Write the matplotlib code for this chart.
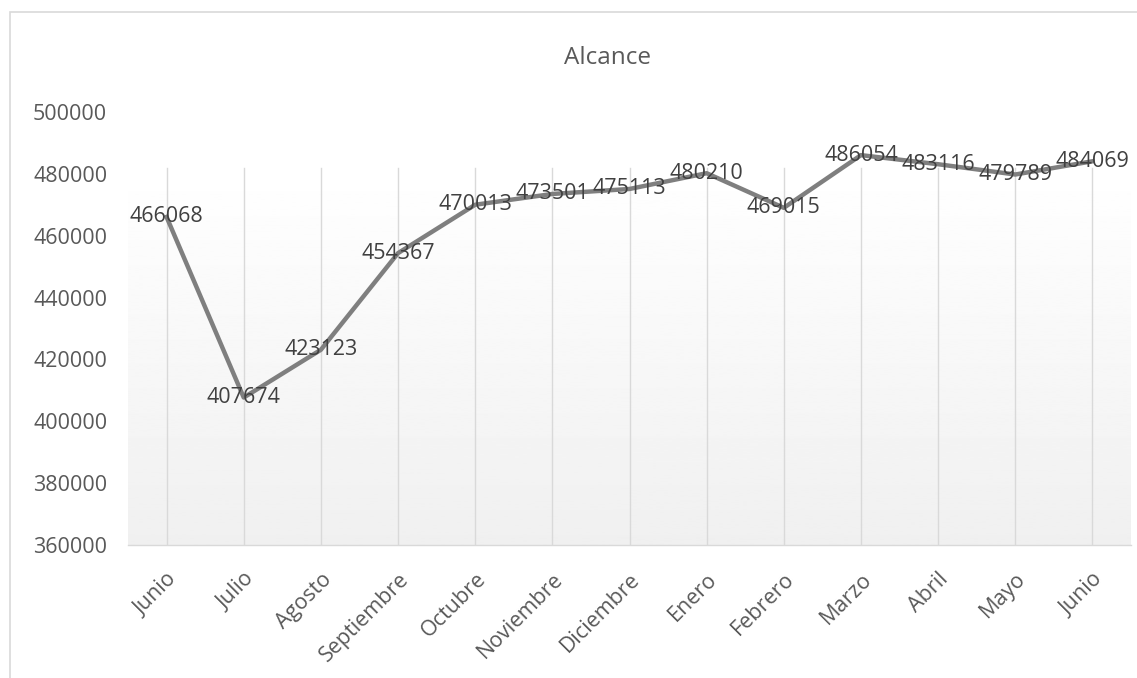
import numpy as np
import matplotlib.pyplot as plt
from matplotlib.patches import Rectangle

# === Data ===
months = ['Junio', 'Julio', 'Agosto', 'Septiembre', 'Octubre', 'Noviembre',
          'Diciembre', 'Enero', 'Febrero', 'Marzo', 'Abril', 'Mayo', 'Junio']
alcance = [466068, 407674, 423123, 454367, 470013, 473501,
           475113, 480210, 469015, 486054, 483116, 479789, 484069]
y_ticks = [360000, 380000, 400000, 420000, 440000, 460000, 480000, 500000]

plt.rcParams['font.family'] = ['Open Sans', 'DejaVu Sans']
text_col = '#595959'

fig = plt.figure(figsize=(11.37, 6.78), dpi=100)
ax = fig.add_axes([128 / 1137, 1 - 545 / 678, 1003 / 1137, 433 / 678])

# chart border (Excel chart area frame)
fig.patches.append(Rectangle((10 / 1137, -0.05), 2.0, 1 - 12 / 678 + 0.05,
                             transform=fig.transFigure, fill=False,
                             edgecolor='#d9d9d9', linewidth=1.2))

x = np.arange(len(months))
ax.set_xlim(-0.5, len(months) - 0.5)
ax.set_ylim(360000, 500000)

# plot-area gradient (white -> light gray)
grad = np.linspace(1.0, 0.94, 256).reshape(-1, 1)
ax.imshow(grad, cmap='gray', vmin=0, vmax=1, aspect='auto',
          extent=(-0.5, len(months) - 0.5, 360000, 482000), zorder=0)

for xi in x:
    ax.axvline(xi, ymax=(482000 - 360000) / 140000, color='#d9d9d9', linewidth=1, zorder=1)

ax.plot(x, alcance, color='#7f7f7f', linewidth=3.2, solid_joinstyle='round', zorder=3)

for xi, v in zip(x, alcance):
    ax.text(xi, v, str(v), ha='center', va='center', fontsize=15.5, color='#404040', zorder=4)

ax.set_xticks(x)
ax.set_xticklabels(months, rotation=45, ha='right', rotation_mode='anchor',
                   fontsize=15.5, color=text_col)
ax.set_yticks(y_ticks)
ax.set_yticklabels([str(t) for t in y_ticks], fontsize=15.5, color=text_col)
ax.tick_params(axis='both', length=0)
ax.tick_params(axis='y', pad=15)
ax.tick_params(axis='x', pad=17)

for s in ['top', 'right', 'left']:
    ax.spines[s].set_visible(False)
ax.spines['bottom'].set_color('#d9d9d9')
ax.spines['bottom'].set_linewidth(1)

fig.text(0.534, 1 - 58 / 678, 'Alcance', ha='center', va='center',
         fontsize=17.5, color=text_col)

fig.savefig('out.png', dpi=100, facecolor='white')
